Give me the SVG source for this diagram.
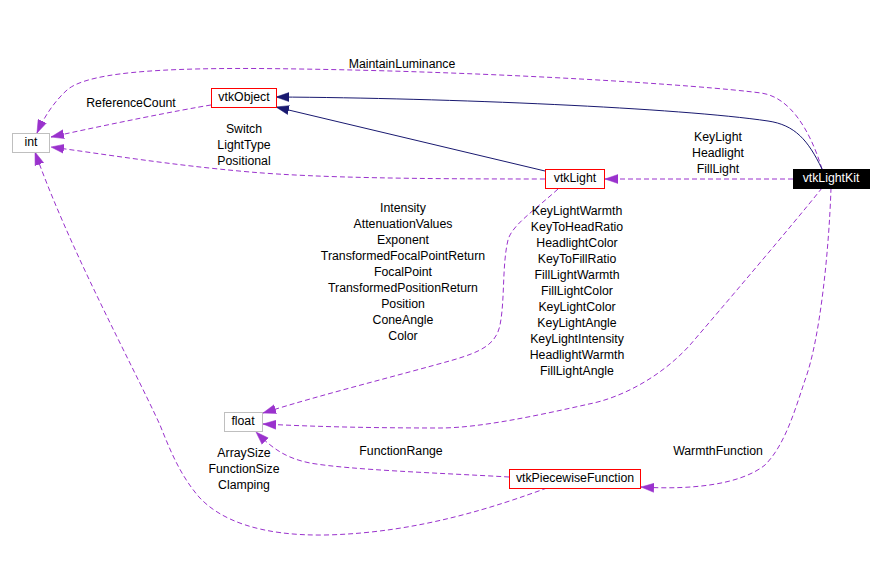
<svg xmlns="http://www.w3.org/2000/svg" width="882" height="578" viewBox="0 0 882 578">
<style>
text{font-family:"Liberation Sans",Arial,sans-serif;font-size:12.3px;fill:#000;text-anchor:middle}
.box{stroke-width:1}
.red{fill:#fff;stroke:#ff0000}
.gray{fill:#fff;stroke:#bfbfbf}
.dark{fill:#000;stroke:#000}
.use{fill:none;stroke:#9a32cd;stroke-width:1;stroke-dasharray:5,3;marker-end:url(#ap)}
.inh{fill:none;stroke:#191970;stroke-width:1;marker-end:url(#an)}
</style>
<defs>
<marker id="ap" markerUnits="userSpaceOnUse" markerWidth="14" markerHeight="10" refX="13" refY="4.5" orient="auto" viewBox="0 0 14 9"><path d="M0,0 L13,4.5 L0,9 z" fill="#9a32cd" stroke="#9a32cd" stroke-width="0.5"/></marker>
<marker id="an" markerUnits="userSpaceOnUse" markerWidth="14" markerHeight="10" refX="13" refY="4.5" orient="auto" viewBox="0 0 14 9"><path d="M0,0 L13,4.5 L0,9 z" fill="#191970" stroke="#191970" stroke-width="0.5"/></marker>
</defs>
<rect width="882" height="578" fill="#fff"/>
<g id="connectors">
<path class="use" d="M211,105 C180,110 110,124 51,137"/>
<path class="use" d="M545,179 C420,179 320,178 250,172 C170,165 110,155 51,147"/>
<path class="use" d="M822,169 C810,130 790,97 761,93 C700,85 500,72 300,69 C180,67 90,70 67,90 C55,101 45,115 37,133"/>
<path class="inh" d="M822,169 C808,140 795,125 768,121 C680,108 450,98 276,97"/>
<path class="inh" d="M545,171 L276,107"/>
<path class="use" d="M793,179 L605,179"/>
<path class="use" d="M558,189 C535,210 512,225 508,240 C502,265 505,300 500,325 C496,345 480,352 453,360 C400,375 320,395 263,413"/>
<path class="use" d="M822,188 C790,228 720,310 690,345 C660,378 620,398 589,404 C540,415 480,428 440,428 C380,428 320,427 263,424"/>
<path class="use" d="M831,188 C829,250 820,340 805,380 C795,410 785,445 765,465 C740,485 690,490 641,487"/>
<path class="use" d="M509,477 C440,473 350,470 310,463 C285,458 272,448 256,432"/>
<path class="use" d="M547,488 C500,505 420,533 325,535 C260,536 220,520 199,497 C180,475 170,450 160,425 C130,360 70,250 35,152"/>
</g>
<g id="labels">
<text x="402" y="68">MaintainLuminance</text>
<text x="131" y="107">ReferenceCount</text>
<text x="244" y="133">Switch</text>
<text x="244" y="149">LightType</text>
<text x="244" y="165">Positional</text>
<text x="718" y="141">KeyLight</text>
<text x="718" y="157">Headlight</text>
<text x="718" y="173">FillLight</text>
<text x="403" y="212">Intensity</text>
<text x="403" y="228">AttenuationValues</text>
<text x="403" y="244">Exponent</text>
<text x="403" y="260">TransformedFocalPointReturn</text>
<text x="403" y="276">FocalPoint</text>
<text x="403" y="292">TransformedPositionReturn</text>
<text x="403" y="308">Position</text>
<text x="403" y="324">ConeAngle</text>
<text x="403" y="340">Color</text>
<text x="577" y="215">KeyLightWarmth</text>
<text x="577" y="231">KeyToHeadRatio</text>
<text x="577" y="247">HeadlightColor</text>
<text x="577" y="263">KeyToFillRatio</text>
<text x="577" y="279">FillLightWarmth</text>
<text x="577" y="295">FillLightColor</text>
<text x="577" y="311">KeyLightColor</text>
<text x="577" y="327">KeyLightAngle</text>
<text x="577" y="343">KeyLightIntensity</text>
<text x="577" y="359">HeadlightWarmth</text>
<text x="577" y="375">FillLightAngle</text>
<text x="401" y="455">FunctionRange</text>
<text x="244" y="457">ArraySize</text>
<text x="244" y="473">FunctionSize</text>
<text x="244" y="489">Clamping</text>
<text x="718" y="455">WarmthFunction</text>
</g>
<g id="node-int"><rect class="box gray" x="12.5" y="133.5" width="37" height="19"/><text x="31" y="146">int</text></g>
<g id="node-vtkObject"><rect class="box red" x="211.5" y="88.5" width="65" height="19"/><text x="244" y="101">vtkObject</text></g>
<g id="node-vtkLight"><rect class="box red" x="545.5" y="169.5" width="59" height="19"/><text x="575" y="182">vtkLight</text></g>
<g id="node-vtkLightKit"><rect class="box dark" x="793.5" y="169.5" width="76" height="19"/><text x="831" y="182" style="fill:#fff">vtkLightKit</text></g>
<g id="node-float"><rect class="box gray" x="224.5" y="412.5" width="38" height="19"/><text x="243" y="425">float</text></g>
<g id="node-vtkPiecewiseFunction"><rect class="box red" x="509.5" y="469.5" width="131" height="19"/><text x="575" y="482">vtkPiecewiseFunction</text></g>
</svg>
